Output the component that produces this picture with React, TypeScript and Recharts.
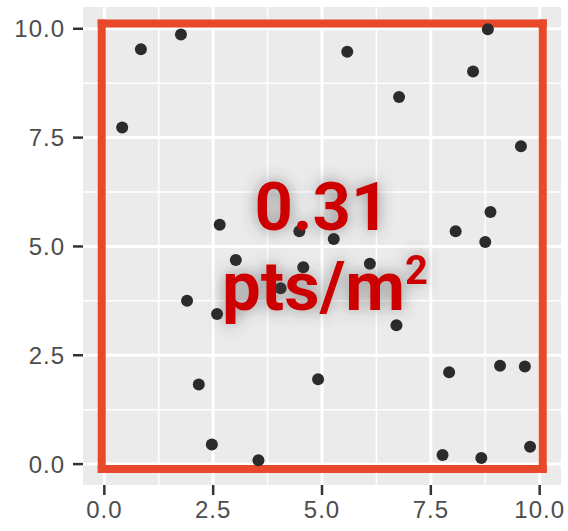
import React from "react";
import {
  ScatterChart,
  Scatter,
  XAxis,
  YAxis,
  ReferenceArea,
  ReferenceLine,
  ReferenceDot,
} from "recharts";

const xs = [0.41, 0.84, 1.76, 1.9, 2.17, 2.47, 2.59, 2.65, 3.02, 3.54, 4.05, 4.48, 4.57, 4.91, 5.27, 5.58, 6.1, 6.71, 6.77, 7.77, 7.92, 8.07, 8.47, 8.66, 8.75, 8.81, 8.87, 9.09, 9.57, 9.66, 9.78];
const ys = [7.73, 9.53, 9.87, 3.75, 1.83, 0.45, 3.45, 5.5, 4.69, 0.09, 4.04, 5.35, 4.52, 1.95, 5.17, 9.47, 4.6, 3.19, 8.43, 0.21, 2.11, 5.35, 9.02, 0.14, 5.1, 9.99, 5.79, 2.26, 7.3, 2.24, 0.4];
const majorTicks = [0, 2.5, 5, 7.5, 10];
const minorTicks = [1.25, 3.75, 6.25, 8.75];
const boxX = [-0.06, 10.07];
const boxY = [-0.11, 10.12];
const densityValue = "0.31";
const densityUnit = "pts/m";
const densityExp = "2";

const points = xs.map((x, i) => ({ x, y: ys[i] }));

const X_DOMAIN: [number, number] = [-0.49, 10.49];
const Y_DOMAIN: [number, number] = [-0.48, 10.5];

const tickStyle = { fontSize: 24, fill: "#4D4D4D", fontFamily: "Liberation Sans", letterSpacing: 1 };

const boxSegments = [
  [{ x: boxX[0], y: boxY[0] }, { x: boxX[1], y: boxY[0] }],
  [{ x: boxX[1], y: boxY[0] }, { x: boxX[1], y: boxY[1] }],
  [{ x: boxX[1], y: boxY[1] }, { x: boxX[0], y: boxY[1] }],
  [{ x: boxX[0], y: boxY[1] }, { x: boxX[0], y: boxY[0] }],
];

const Label = (props: any) => {
  const { cx, cy } = props;
  return (
    <g>
      <defs>
        <filter id="glow" x="-50%" y="-50%" width="200%" height="200%">
          <feDropShadow dx="0" dy="0" stdDeviation="8" floodColor="#444444" floodOpacity="0.6" />
        </filter>
      </defs>
      <g filter="url(#glow)">
        <text
          x={cx}
          y={cy - 16}
          textAnchor="middle"
          fontFamily="Roboto"
          fontWeight={700}
          fontSize={67}
          fill="#CC0000"
        >
          {densityValue}
        </text>
        <text
          x={cx + 3}
          y={cy + 64}
          textAnchor="middle"
          fontFamily="Roboto"
          fontWeight={700}
          fontSize={69}
          fill="#CC0000"
        >
          {densityUnit}
          <tspan fontSize={40} dy={-26}>
            {densityExp}
          </tspan>
        </text>
      </g>
    </g>
  );
};

export default function App() {
  return (
    <div style={{ position: "absolute", left: 0, top: 0 }}>
      <ScatterChart
        width={568}
        height={531}
        margin={{ top: 7, right: 7, bottom: 0, left: 0 }}
      >
        <XAxis
          type="number"
          dataKey="x"
          domain={X_DOMAIN}
          allowDataOverflow
          ticks={majorTicks}
          tickFormatter={(v: number) => v.toFixed(1)}
          axisLine={false}
          tickLine={{ stroke: "#333333", strokeWidth: 2.5 }}
          tickSize={10}
          tickMargin={6}
          height={46}
          tick={tickStyle}
        />
        <YAxis
          type="number"
          dataKey="y"
          domain={Y_DOMAIN}
          allowDataOverflow
          ticks={majorTicks}
          tickFormatter={(v: number) => v.toFixed(1)}
          axisLine={false}
          tickLine={{ stroke: "#333333", strokeWidth: 2.5 }}
          tickSize={10}
          tickMargin={8}
          width={83}
          tick={tickStyle}
        />
        <ReferenceArea
          x1={X_DOMAIN[0]}
          x2={X_DOMAIN[1]}
          y1={Y_DOMAIN[0]}
          y2={Y_DOMAIN[1]}
          fill="#EBEBEB"
          fillOpacity={1}
          stroke="none"
          ifOverflow="visible"
        />
        {minorTicks.map((v) => (
          <ReferenceLine key={"mx" + v} x={v} stroke="#FFFFFF" strokeWidth={1.5} />
        ))}
        {minorTicks.map((v) => (
          <ReferenceLine key={"my" + v} y={v} stroke="#FFFFFF" strokeWidth={1.5} />
        ))}
        {majorTicks.map((v) => (
          <ReferenceLine key={"Mx" + v} x={v} stroke="#FFFFFF" strokeWidth={3} />
        ))}
        {majorTicks.map((v) => (
          <ReferenceLine key={"My" + v} y={v} stroke="#FFFFFF" strokeWidth={3} />
        ))}
        {boxSegments.map((seg, i) => (
          <ReferenceLine
            key={"box" + i}
            segment={seg}
            stroke="#E8492A"
            strokeWidth={8}
            strokeLinecap="square"
            ifOverflow="visible"
          />
        ))}
        <Scatter
          data={points}
          fill="#2B2B2B"
          isAnimationActive={false}
          shape={(p: any) => <circle cx={p.cx} cy={p.cy} r={6} fill="#2B2B2B" />}
        />
        <ReferenceDot x={5} y={5} r={0} ifOverflow="visible" shape={(p: any) => <Label {...p} />} />
      </ScatterChart>
    </div>
  );
}
